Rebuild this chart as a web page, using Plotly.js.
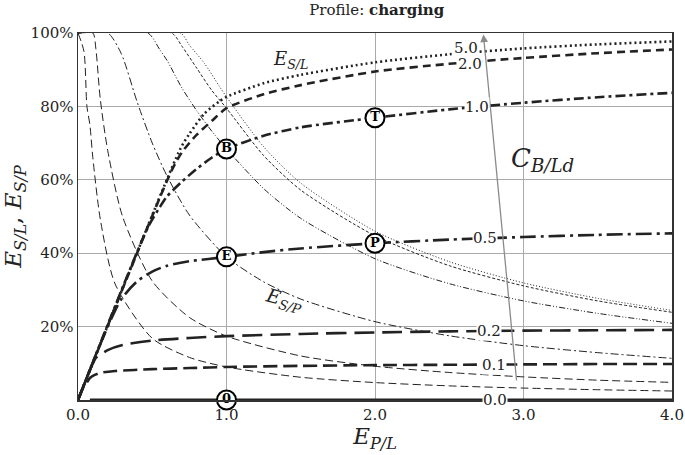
<!DOCTYPE html>
<html>
<head>
<meta charset="utf-8">
<script src="https://cdn.plot.ly/plotly-3.0.1.min.js"></script>
<style>html,body{margin:0;padding:0;background:#fff;}#chart{width:685px;height:455px;}</style>
</head>
<body>
<div id="chart"></div>
<script>
// ---- data (E in %) ----
const c5_x  = [0, 0.69, 0.75, 0.85, 0.95, 1.0, 1.25, 1.5, 2.0, 2.5, 3.0, 3.5, 4.0];
const c5_sl = [0, 68.5, 72.5, 78.0, 81.3, 82.6, 86.3, 88.6, 92.0, 94.2, 95.8, 96.9, 97.7];
const c5_sp = [100, 100, 96.7, 91.8, 85.6, 82.6, 69.0, 59.1, 46.0, 37.7, 31.9, 27.7, 24.4];

const c2_x  = [0, 0.63, 0.7, 0.8, 0.9, 1.0, 1.25, 1.5, 2.0, 2.5, 3.0, 3.5, 4.0];
const c2_sl = [0, 62.5, 67.5, 72.3, 76.0, 79.5, 83.3, 85.8, 89.5, 91.6, 93.2, 94.5, 95.5];
const c2_sp = [100, 100, 96.4, 90.4, 84.4, 79.5, 66.6, 57.2, 44.75, 36.6, 31.1, 27.0, 23.9];

const c1_x  = [0, 0.47, 0.55, 0.6, 0.7, 0.8, 0.9, 1.0, 1.25, 1.5, 2.0, 2.5, 3.0, 3.5, 4.0];
const c1_sl = [0, 47, 52.5, 55.5, 59.5, 63, 66, 68.4, 72, 74.3, 76.9, 79.2, 81, 82.5, 83.7];
const c1_sp = [100, 100, 95.5, 92.5, 85, 78.8, 73.3, 68.4, 57.6, 49.5, 38.5, 31.7, 27, 23.6, 20.9];

const c05_x  = [0, 0.2, 0.29, 0.4, 0.5, 0.6, 0.75, 1.0, 1.25, 1.5, 2.0, 2.5, 3.0, 3.5, 4.0];
const c05_sl = [0, 20, 27.4, 32.4, 35, 36.6, 37.8, 39, 40.3, 41.3, 42.7, 43.7, 44.4, 45, 45.4];
const c05_sp = [100, 100, 94.5, 81, 70, 61, 50.4, 39, 32.2, 27.5, 21.35, 17.5, 14.8, 12.9, 11.35];

const c02_x  = [0, 0.1, 0.12, 0.15, 0.2, 0.3, 0.5, 0.75, 1.0, 1.5, 2.0, 2.5, 3.0, 3.5, 4.0];
const c02_sl = [0, 10, 11.5, 12.3, 13.6, 15, 16.2, 16.9, 17.4, 18.0, 18.4, 18.7, 18.9, 19.0, 19.1];
const c02_sp = [100, 100, 95.8, 82, 68, 50, 32.4, 22.5, 17.4, 12, 9.2, 7.5, 6.3, 5.4, 4.8];

const c01_x  = [0, 0.04, 0.06, 0.08, 0.1, 0.15, 0.25, 0.5, 0.75, 1.0, 1.5, 2.0, 2.5, 3.0, 3.5, 4.0];
const c01_sl = [0, 3.8, 4.8, 6.0, 6.6, 7.4, 7.9, 8.4, 8.7, 9.0, 9.3, 9.5, 9.6, 9.7, 9.8, 9.8];
const c01_sp = [100, 95, 80, 75, 66, 49.3, 31.6, 16.8, 11.6, 9.0, 6.2, 4.75, 3.85, 3.25, 2.8, 2.45];

const c0_x  = [0.08, 4.0];
const c0_sl = [0, 0];

const curveLabels = ['5.0', '2.0', '1.0', '0.5', '0.2', '0.1', '0.0'];
const labelX = [2.61, 2.64, 2.69, 2.74, 2.77, 2.80, 2.81];
const labelY = [95.9, 91.6, 79.8, 44.1, 18.8, 9.5, 0];

const pointText = ['T', 'B', 'E', 'P', '0'];
const pointX = [2.0, 1.0, 1.0, 2.0, 1.0];
const pointY = [76.9, 68.4, 39.0, 42.7, 0];

const xTickVals = [0, 1, 2, 3, 4];
const xTickText = ['0.0', '1.0', '2.0', '3.0', '4.0'];
const yTickVals = [20, 40, 60, 80, 100];
const yTickText = ['20%', '40%', '60%', '80%', '100%'];

// ---- styling ----
const INK = '#222';
const FONT = 'DejaVu Serif, Liberation Serif, serif';
function line(x, y, width, dash, shape) {
  return {x: x, y: y, type: 'scatter', mode: 'lines', hoverinfo: 'skip', showlegend: false,
          line: {color: INK, width: width, dash: dash, shape: shape || 'spline', smoothing: 0.7}};
}
const traces = [
  // storage / production (thin)
  line(c5_x,  c5_sp,  1, '1px,2px'),
  line(c2_x,  c2_sp,  1, '3px,2px'),
  line(c1_x,  c1_sp,  1, '6px,2px,1px,2px,1px,2px'),
  line(c05_x, c05_sp, 1, '8px,3px,2px,3px'),
  line(c02_x, c02_sp, 1, '8px,4px'),
  line(c01_x, c01_sp, 1, '8px,4px'),
  // storage / load (heavy)
  line(c5_x,  c5_sl,  2.6, '2px,3px'),
  line(c2_x,  c2_sl,  2.6, '8px,5px'),
  line(c1_x,  c1_sl,  2.6, '10px,4px,3px,4px'),
  line(c05_x, c05_sl, 2.6, '16px,5px,3px,5px'),
  line(c02_x, c02_sl, 2.6, '20px,8px'),
  line(c01_x, c01_sl, 2.6, '14px,6px'),
  line(c0_x,  c0_sl,  3, 'solid', 'linear'),
  {x: pointX, y: pointY, text: pointText, type: 'scatter', mode: 'markers+text',
   hoverinfo: 'skip', showlegend: false, cliponaxis: false,
   marker: {size: 19, color: '#fff', line: {color: '#000', width: 2}},
   textposition: 'middle center',
   textfont: {family: FONT, size: 13, color: '#000', weight: 'bold'}}
];

const annotations = [
  {x: 2.73, y: 99.6, ax: 2.96, ay: 2.5, xref: 'x', yref: 'y', axref: 'x', ayref: 'y',
   text: ' ', showarrow: true, arrowhead: 2, arrowsize: 1.2, arrowwidth: 1.3, arrowcolor: '#8a8a8a'},
  {x: 1.43, y: 92.6, xref: 'x', yref: 'y', showarrow: false,
   text: '<i>E</i><sub><i>S/L</i></sub>', font: {family: FONT, size: 18, color: INK}},
  {x: 1.39, y: 27.0, xref: 'x', yref: 'y', showarrow: false, textangle: 15,
   text: '<i>E</i><sub><i>S/P</i></sub>', font: {family: FONT, size: 19, color: INK}},
  {x: 3.13, y: 65.5, xref: 'x', yref: 'y', showarrow: false,
   text: '<i>C</i><sub><i>B/Ld</i></sub>', font: {family: FONT, size: 26, color: INK}}
];
curveLabels.forEach(function (t, i) {
  annotations.push({x: labelX[i], y: labelY[i], xref: 'x', yref: 'y', showarrow: false,
    text: t, bgcolor: '#fff', borderpad: 0,
    font: {family: FONT, size: 15, color: INK}});
});

const layout = {
  width: 685, height: 455,
  margin: {l: 78, r: 13, t: 33, b: 55},
  paper_bgcolor: '#fff', plot_bgcolor: '#fff',
  font: {family: FONT, size: 15, color: INK},
  title: {text: 'Profile: <b>charging</b>', x: 0.55, xanchor: 'center', y: 0.99, yanchor: 'top',
          font: {family: FONT, size: 15, color: INK}},
  xaxis: {range: [0, 4], tickvals: xTickVals, ticktext: xTickText, showgrid: true,
          gridcolor: '#aaaaaa', gridwidth: 1, zeroline: false, showline: true, mirror: true,
          linecolor: '#333', linewidth: 1.5, ticks: '',
          tickfont: {family: FONT, size: 15, color: INK},
          title: {text: '<i>E</i><sub><i>P/L</i></sub>', standoff: 4,
                  font: {family: FONT, size: 23, color: INK}}},
  yaxis: {range: [0, 100], tickvals: yTickVals, ticktext: yTickText, showgrid: true,
          gridcolor: '#aaaaaa', gridwidth: 1, zeroline: false, showline: true, mirror: true,
          linecolor: '#333', linewidth: 1.5, ticks: '',
          tickfont: {family: FONT, size: 15, color: INK},
          title: {text: '<i>E</i><sub><i>S/L</i></sub>, <i>E</i><sub><i>S/P</i></sub>', standoff: 2,
                  font: {family: FONT, size: 23, color: INK}}},
  annotations: annotations
};

Plotly.newPlot('chart', traces, layout, {staticPlot: true, displayModeBar: false});
</script>
</body>
</html>
